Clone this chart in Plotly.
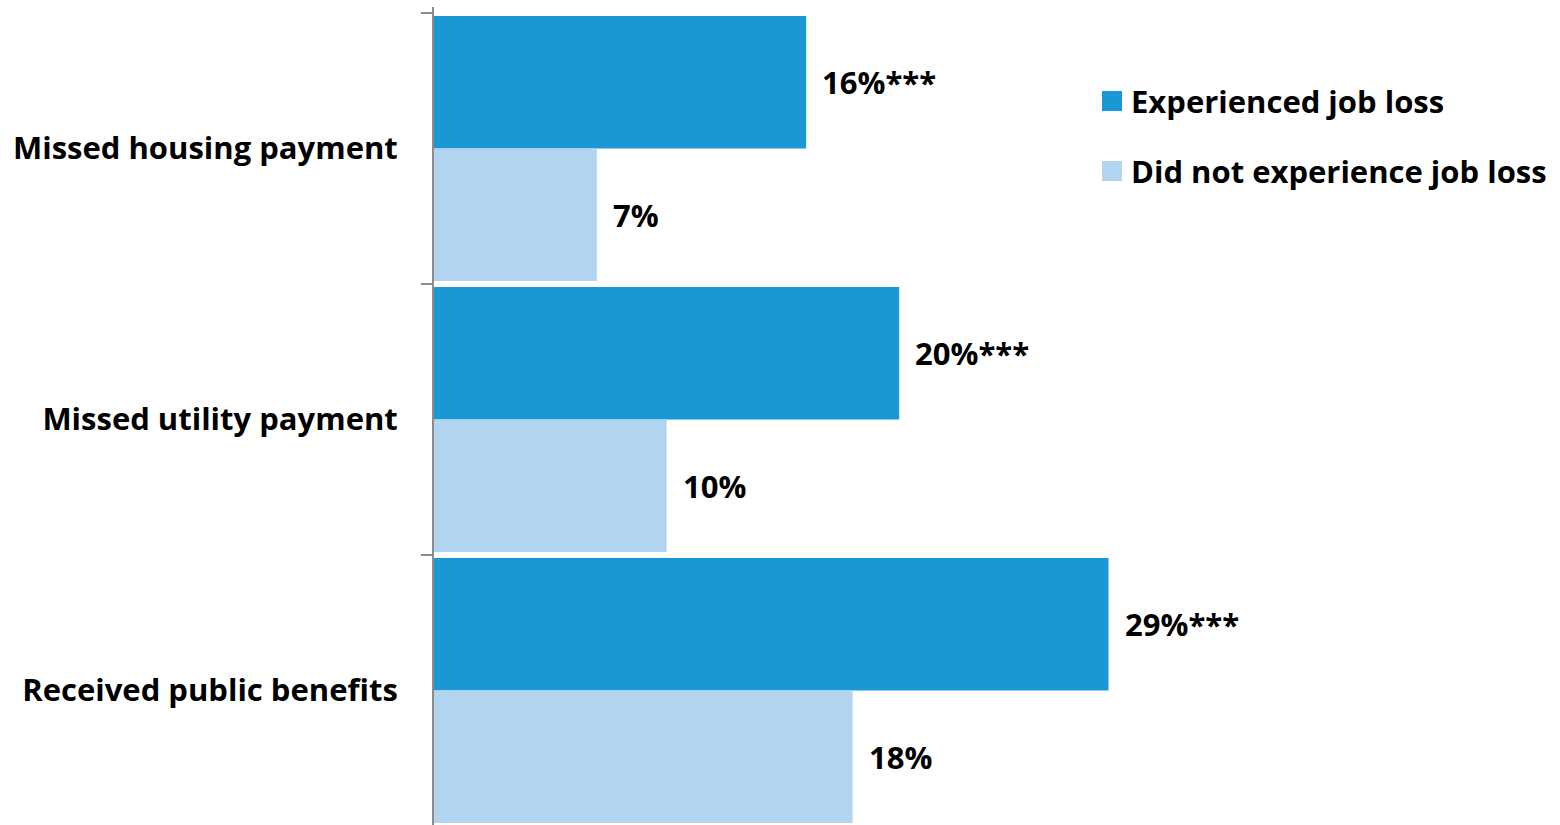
import plotly.graph_objects as go

# Data
categories = ["Missed housing payment", "Missed utility payment", "Received public benefits"]
job_loss = [16, 20, 29]
no_job_loss = [7, 10, 18]
job_loss_sig = ["***", "***", "***"]
no_job_loss_sig = ["", "", ""]
series_names = ["Experienced job loss", "Did not experience job loss"]

DARK = "#1A97D5"
LIGHT = "#B1D5F0"
FONT = "Open Sans"
FSIZE = 31

W, H = 1560, 825
ML, MR, MT, MB = 434, 0, 7, 0
plot_w = W - ML - MR
plot_h = H - MT - MB
px_per_unit = 23.26
band_px = 271.0
bargap = 0.022

fig = go.Figure()
fig.add_trace(go.Bar(y=categories, x=job_loss, orientation="h", name=series_names[0],
                     marker=dict(color=DARK, line=dict(width=0)), showlegend=False))
fig.add_trace(go.Bar(y=categories, x=no_job_loss, orientation="h", name=series_names[1],
                     marker=dict(color=LIGHT, line=dict(width=0)), showlegend=False))

# Value labels beside each bar
half = (1 - bargap) / 4
annotations = []
for i, (a, b) in enumerate(zip(job_loss, no_job_loss)):
    for v, sig, off in ((a, job_loss_sig[i], -half), (b, no_job_loss_sig[i], half)):
        annotations.append(dict(x=v, y=i + off, xref="x", yref="y", text=f"<b>{v}%{sig}</b>",
                                showarrow=False, xanchor="left", yanchor="middle", xshift=14,
                                font=dict(family=FONT, size=FSIZE, color="#000000")))

# Legend drawn as swatches plus text
shapes = []
for k, (name, col) in enumerate(zip(series_names, [DARK, LIGHT])):
    cy = 101 + 70 * k
    ypaper = 1 - (cy - MT) / plot_h
    xpaper = (1112 - ML) / plot_w
    shapes.append(dict(type="rect", xref="paper", yref="paper", xsizemode="pixel", ysizemode="pixel",
                       xanchor=xpaper, yanchor=ypaper, x0=-10, x1=10, y0=-10, y1=10,
                       fillcolor=col, line=dict(width=0)))
    annotations.append(dict(x=(1129 - ML) / plot_w, y=ypaper, xref="paper", yref="paper",
                            text=f"<b>{name}</b>", showarrow=False, xanchor="left", yanchor="middle",
                            font=dict(family=FONT, size=FSIZE, color="#000000")))

top = -0.5 - 6 / band_px
bottom = top + plot_h / band_px

fig.update_layout(
    width=W, height=H,
    margin=dict(l=ML, r=MR, t=MT, b=MB, pad=0),
    paper_bgcolor="white", plot_bgcolor="white",
    barmode="group", bargap=bargap, bargroupgap=0,
    annotations=annotations, shapes=shapes,
    xaxis=dict(range=[0, plot_w / px_per_unit], visible=False, showgrid=False, zeroline=False),
    yaxis=dict(range=[bottom, top], type="category", showgrid=False, zeroline=False,
               showline=True, linecolor="#8C8C8C", linewidth=2,
               ticks="outside", ticklen=11, tickwidth=2, tickcolor="#8C8C8C",
               tickson="boundaries", ticklabelstandoff=28,
               tickfont=dict(family=FONT, size=FSIZE, color="#000000", weight="bold")),
)

fig.write_html("out.html")
